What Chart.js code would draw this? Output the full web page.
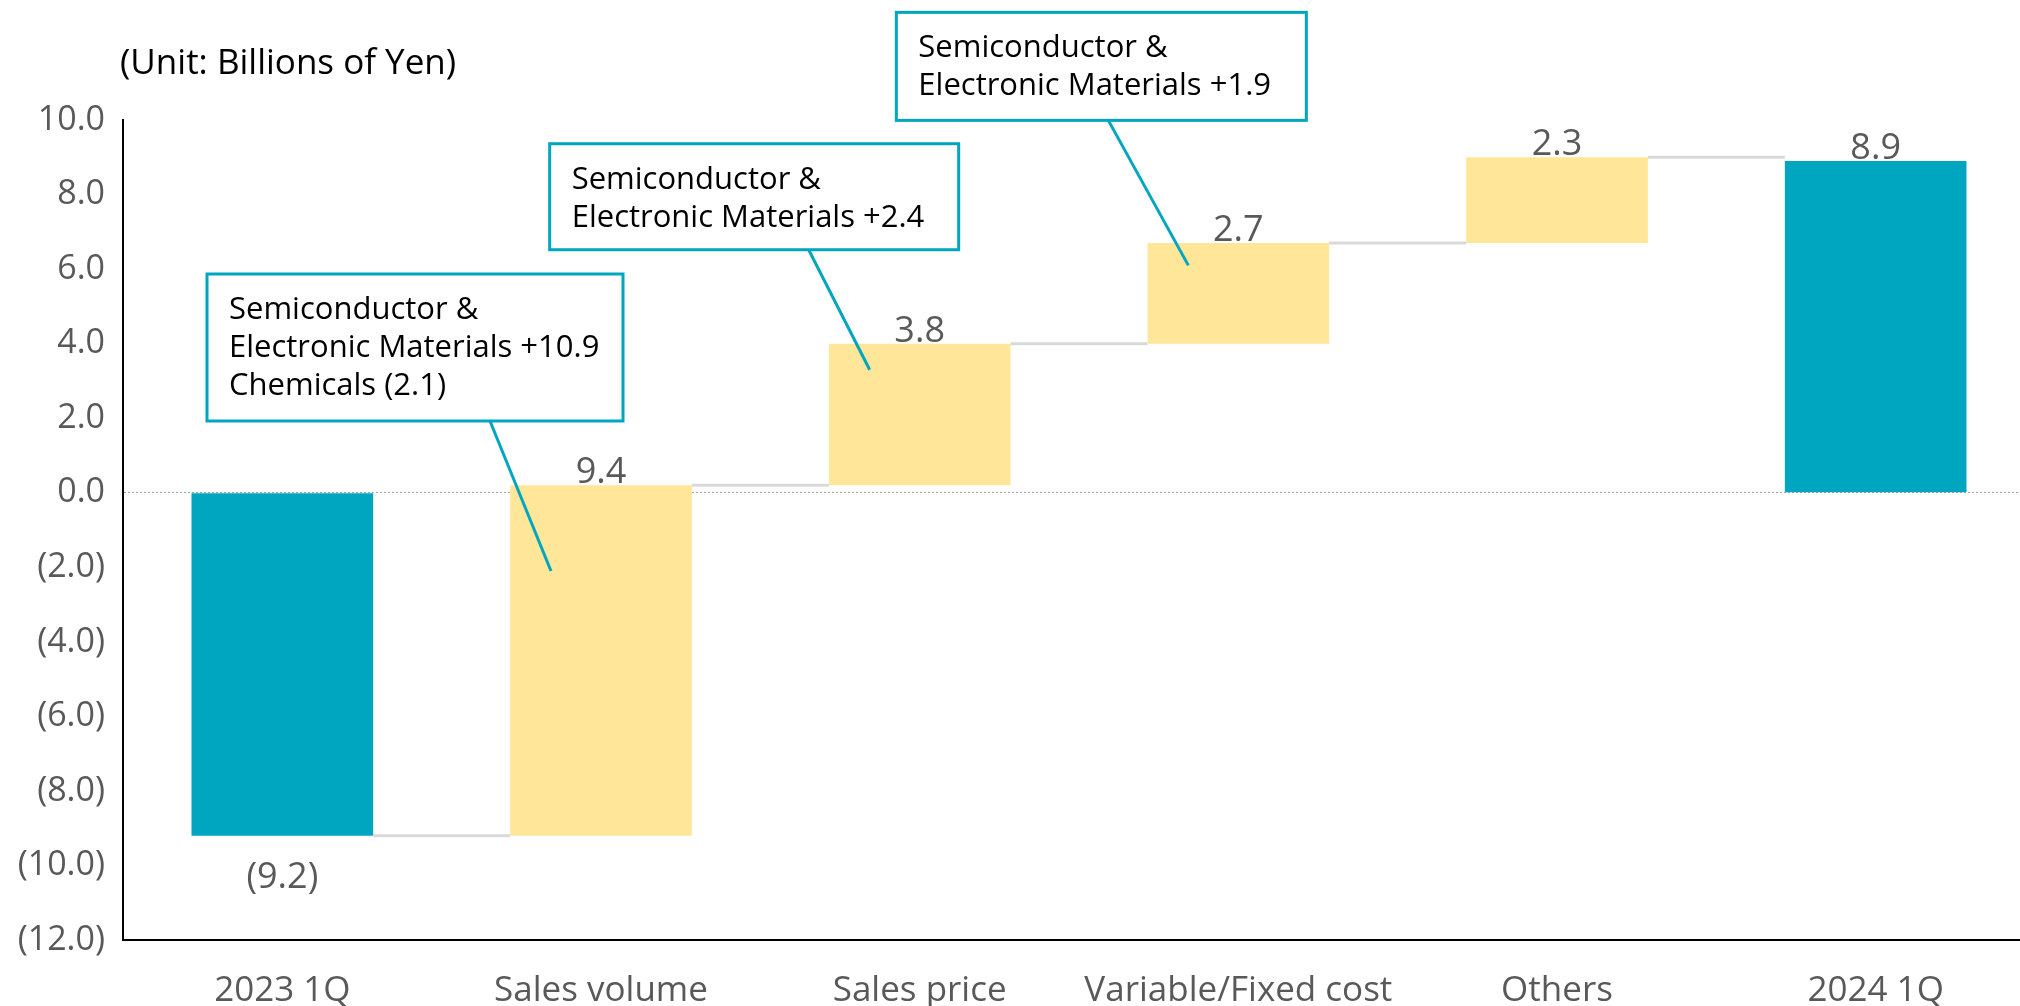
<!DOCTYPE html>
<html>
<head>
<meta charset="utf-8">
<script src="https://cdn.jsdelivr.net/npm/chart.js@4.4.1/dist/chart.umd.min.js"></script>
<style>
  html, body { margin: 0; padding: 0; background: #fff; overflow: hidden; }
  canvas { display: block; }
</style>
</head>
<body>
<canvas id="bridge" width="2035" height="1006"></canvas>
<script>
'use strict';

// Categories along the x axis.
const categories = ['2023 1Q', 'Sales volume', 'Sales price', 'Variable/Fixed cost', 'Others', '2024 1Q'];

// Starting total, the steps in between and the final total.
const startTotal = -9.2;
const steps = [9.4, 3.8, 2.7, 2.3];
const endTotal = 8.9;

// Y axis ticks.
const yMin = -12;
const yMax = 10;
const yStep = 2;

// Callout texts, and where their leader lines point (category index, value).
const calloutLines = [
  ['Semiconductor &', 'Electronic Materials +10.9', 'Chemicals (2.1)'],
  ['Semiconductor &', 'Electronic Materials +2.4'],
  ['Semiconductor &', 'Electronic Materials +1.9']
];
const calloutIndex = [1, 2, 3];
const calloutValue = [-2.1, 3.3, 6.1];

const unitText = '(Unit: Billions of Yen)';

// Colours.
const teal = '#00A6BF';
const yellow = '#FFE699';
const grey = '#595959';

// Build the floating bars: [from, to] for each category.
const ranges = [[0, startTotal]];
let running = startTotal;
steps.forEach(s => {
  ranges.push([running, running + s]);
  running += s;
});
ranges.push([0, endTotal]);

const labelValues = [startTotal].concat(steps, [endTotal]);
const barColors = ranges.map((r, i) => (i === 0 || i === ranges.length - 1) ? teal : yellow);

function fmt(v) {
  return v < 0 ? '(' + Math.abs(v).toFixed(1) + ')' : v.toFixed(1);
}

// Box placement of the callouts, relative to the leader end point (px).
const calloutBox = [
  { dx: -344, dy: -297, w: 416, h: 147, lead: -61 },
  { dx: -320, dy: -226, w: 409, h: 106, lead: -61 },
  { dx: -292, dy: -253, w: 410, h: 108, lead: -80 }
];

const bridgePlugin = {
  id: 'bridge',
  afterDatasetsDraw(chart) {
    const ctx = chart.ctx;
    const meta = chart.getDatasetMeta(0);
    const y = chart.scales.y;
    ctx.save();

    // connector lines between bars
    ctx.strokeStyle = '#D9D9D9';
    ctx.lineWidth = 3;
    for (let i = 0; i < meta.data.length - 1; i++) {
      const a = meta.data[i];
      const b = meta.data[i + 1];
      const level = y.getPixelForValue(ranges[i][1]);
      ctx.beginPath();
      ctx.moveTo(a.x + a.width / 2, level);
      ctx.lineTo(b.x - b.width / 2, level);
      ctx.stroke();
    }

    // value labels
    ctx.font = '36px "Open Sans"';
    ctx.fillStyle = grey;
    ctx.textAlign = 'center';
    meta.data.forEach((bar, i) => {
      const v = labelValues[i];
      const top = Math.min(bar.y, bar.base);
      const bottom = Math.max(bar.y, bar.base);
      if (v < 0) {
        ctx.textBaseline = 'top';
        ctx.fillText(fmt(v), bar.x, bottom + 24);
      } else {
        ctx.textBaseline = 'alphabetic';
        ctx.fillText(fmt(v), bar.x, top - 2);
      }
    });
    ctx.restore();
  },
  afterDraw(chart) {
    const ctx = chart.ctx;
    const meta = chart.getDatasetMeta(0);
    const y = chart.scales.y;
    ctx.save();

    // unit note
    ctx.font = '35px "Open Sans"';
    ctx.fillStyle = '#000';
    ctx.textAlign = 'left';
    ctx.textBaseline = 'middle';
    ctx.fillText(unitText, 120, 64);

    // callouts
    calloutLines.forEach((lines, k) => {
      const bar = meta.data[calloutIndex[k]];
      const px = bar.x - 50;
      const py = y.getPixelForValue(calloutValue[k]);
      const b = calloutBox[k];
      const left = px + b.dx;
      const top = py + b.dy;

      ctx.strokeStyle = teal;
      ctx.lineWidth = 3;
      ctx.beginPath();
      ctx.moveTo(px + b.lead, top + b.h);
      ctx.lineTo(px, py);
      ctx.stroke();

      ctx.fillStyle = '#fff';
      ctx.fillRect(left, top, b.w, b.h);
      ctx.strokeRect(left, top, b.w, b.h);

      ctx.fillStyle = '#000';
      ctx.font = '31px "Open Sans"';
      ctx.textAlign = 'left';
      ctx.textBaseline = 'middle';
      lines.forEach((t, j) => {
        ctx.fillText(t, left + 22, top + 36 + j * 38);
      });
    });
    ctx.restore();
  }
};

Chart.defaults.font.family = '"Open Sans", sans-serif';

const chart = new Chart(document.getElementById('bridge'), {
  type: 'bar',
  data: {
    labels: categories,
    datasets: [{
      data: ranges,
      backgroundColor: barColors,
      borderWidth: 0,
      barPercentage: 0.57,
      categoryPercentage: 1
    }]
  },
  options: {
    responsive: false,
    animation: false,
    layout: { padding: { top: 120, left: 0, right: 0, bottom: 0 } },
    plugins: {
      legend: { display: false },
      tooltip: { enabled: false }
    },
    scales: {
      x: {
        grid: { display: false, drawTicks: false },
        border: { display: true, color: '#000', width: 2 },
        ticks: { color: grey, font: { size: 35 }, padding: 30, maxRotation: 0, autoSkip: false },
        afterFit(scale) { scale.height = 66; }
      },
      y: {
        min: yMin,
        max: yMax,
        grid: {
          drawTicks: false,
          color: c => (c.tick && c.tick.value === 0) ? '#A6A6A6' : 'rgba(0,0,0,0)',
          lineWidth: 1
        },
        border: { display: true, color: '#000', width: 2, dash: [2, 2] },
        ticks: {
          stepSize: yStep,
          color: grey,
          font: { size: 34 },
          padding: 18,
          callback: v => fmt(v)
        },
        afterFit(scale) { scale.width = 123; }
      }
    }
  },
  plugins: [bridgePlugin]
});
</script>
</body>
</html>
